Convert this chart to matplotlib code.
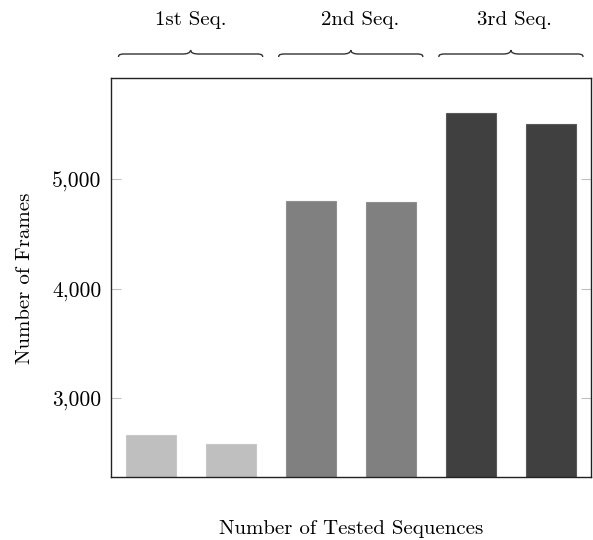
import matplotlib
matplotlib.use("Agg")
import matplotlib.pyplot as plt
from matplotlib.path import Path
from matplotlib.patches import PathPatch
from matplotlib.ticker import FuncFormatter
import matplotlib.transforms as mtransforms

plt.rcParams['font.family'] = ['cmr10', 'DejaVu Serif']
plt.rcParams['mathtext.fontset'] = 'cm'
plt.rcParams['axes.unicode_minus'] = False

# data
groups = ["1st Seq.", "2nd Seq.", "3rd Seq."]
group_label_x = [0.5, 2.62, 4.54]
frames = [2658, 2583, 4798, 4789, 5607, 5510]
colors = ["#bfbfbf", "#bfbfbf", "#808080", "#808080", "#404040", "#404040"]
edges = ["#c8c8c8", "#c8c8c8", "#909090", "#909090", "#5a5a5a", "#5a5a5a"]
yticks = [3000, 4000, 5000]

W, H = 593, 540
FS = 15
fig = plt.figure(figsize=(W / 100, H / 100), dpi=100)
ax = fig.add_axes([110.5 / W, 1 - 477.3 / H, (591 - 110.5) / W, (477.3 - 78.3) / H])

x = list(range(len(frames)))
ax.bar(x, frames, width=0.625, color=colors, edgecolor=edges, linewidth=0.8, zorder=2)

ax.set_xlim(-0.5, len(frames) - 0.5)
ax.set_ylim(2275, 5925)
ax.set_xticks([])
ax.set_yticks(yticks)
ax.yaxis.set_major_formatter(FuncFormatter(lambda v, p: f"{v:,.0f}"))
ax.tick_params(axis='y', direction='in', length=7.2, width=0.8, color='#c0c0c0',
               left=True, right=True, labelsize=15.5, pad=6.5)
for s in ax.spines.values():
    s.set_linewidth(1.0)
    s.set_color('#222222')

ax.set_xlabel("Number of Tested Sequences", fontsize=FS, labelpad=31)
ax.set_ylabel("Number of Frames", fontsize=FS, labelpad=13)

# braces over groups
trans = mtransforms.blended_transform_factory(ax.transData, fig.transFigure)
yt, ya, ye = 490 / H, 486 / H, 483 / H
half = 0.9
r = 0.1
for gi, name in enumerate(groups):
    xc = 2 * gi + 0.5
    x0, x1 = xc - half, xc + half
    verts = [
        (x0, ye),
        (x0, ya), (x0 + 0.3 * r, ya), (x0 + r, ya),
        (xc - r, ya),
        (xc - 0.4 * r, ya), (xc, ya + 0.3 * (yt - ya)), (xc, yt),
        (xc, ya + 0.3 * (yt - ya)), (xc + 0.4 * r, ya), (xc + r, ya),
        (x1 - r, ya),
        (x1 - 0.3 * r, ya), (x1, ya), (x1, ye),
    ]
    codes = [Path.MOVETO,
             Path.CURVE4, Path.CURVE4, Path.CURVE4,
             Path.LINETO,
             Path.CURVE4, Path.CURVE4, Path.CURVE4,
             Path.CURVE4, Path.CURVE4, Path.CURVE4,
             Path.LINETO,
             Path.CURVE4, Path.CURVE4, Path.CURVE4]
    patch = PathPatch(Path(verts, codes), transform=trans, facecolor='none',
                      edgecolor='#333333', linewidth=1.0, clip_on=False)
    fig.add_artist(patch)
    ax.text(group_label_x[gi], 520 / H, name, transform=trans, ha='center',
            va='center', fontsize=FS, clip_on=False)

fig.savefig("out.png", dpi=100)
